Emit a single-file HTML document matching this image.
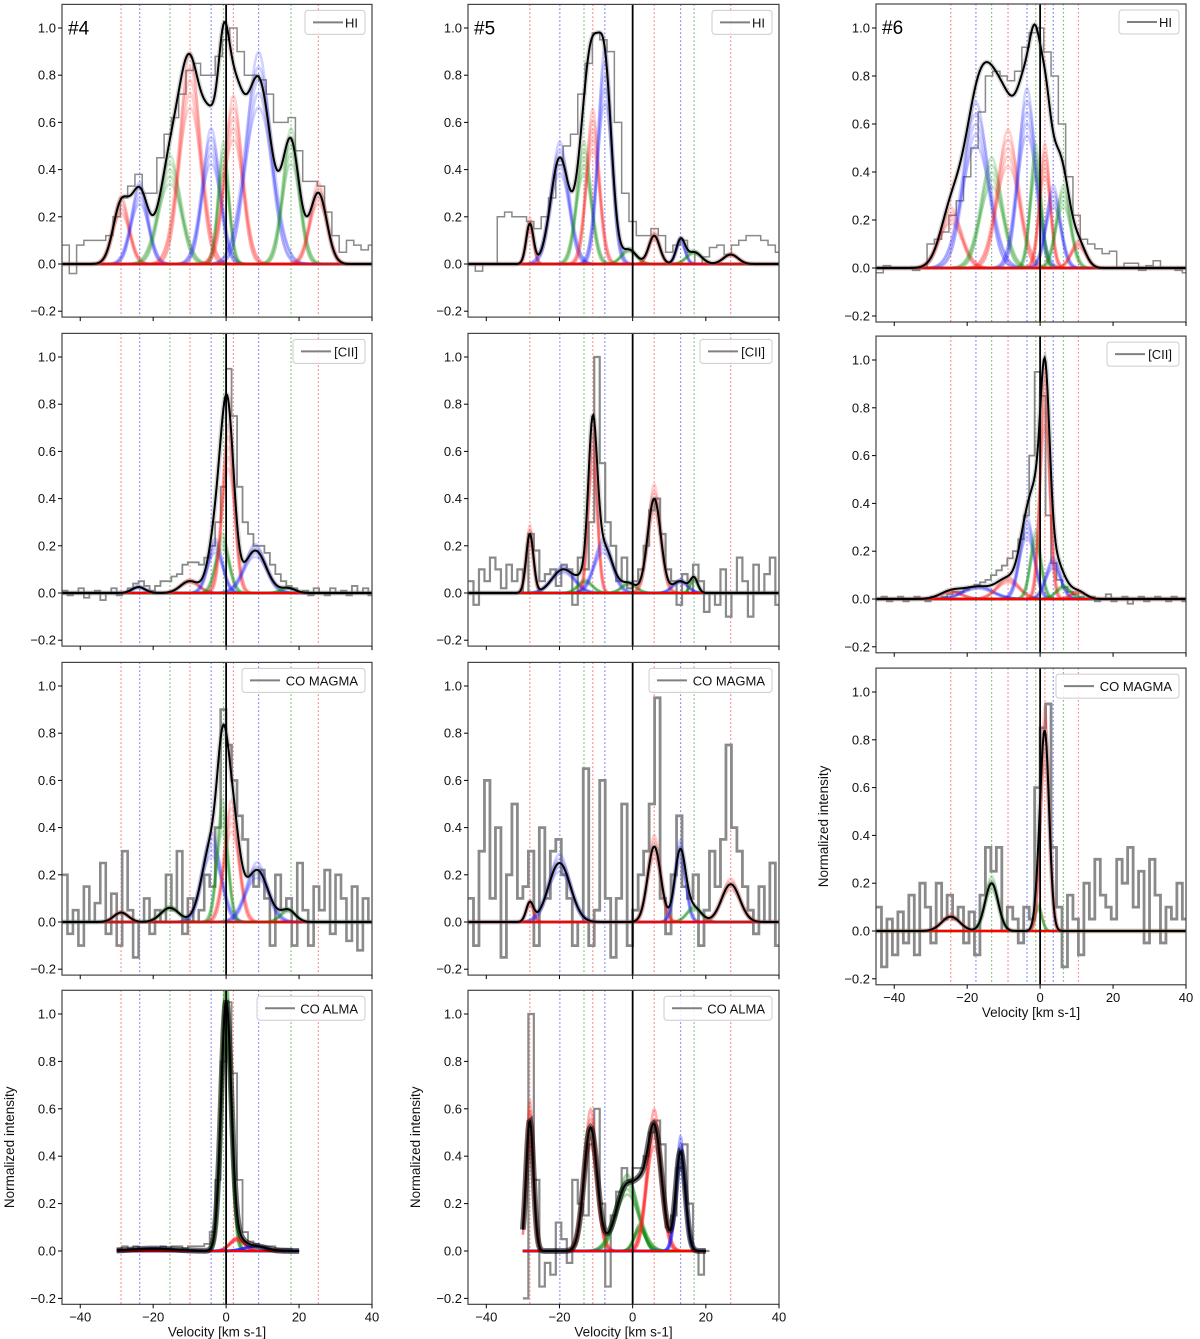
<!DOCTYPE html>
<html><head><meta charset="utf-8"><style>
body{margin:0;background:#fff;}
svg{display:block;font-family:"Liberation Sans","DejaVu Sans",sans-serif;}
</style></head><body>
<svg id="fig" width="1200" height="1339" viewBox="0 0 1200 1339" xmlns="http://www.w3.org/2000/svg"></svg>
<script>
// ---- data arrays ----
const velLines4 = [[-28.8,'r'],[-23.7,'b'],[-15.4,'g'],[-9.9,'r'],[-4.1,'b'],[-0.7,'g'],[2.0,'r'],[8.9,'b'],[17.8,'g'],[25.3,'r']];
const velLines5 = [[-28.1,'r'],[-19.9,'b'],[-13.3,'g'],[-10.9,'r'],[-7.6,'b'],[5.9,'r'],[13.1,'b'],[16.8,'g'],[26.8,'r']];
const velLines6 = [[-24.5,'r'],[-17.6,'b'],[-13.3,'g'],[-8.8,'r'],[-3.6,'b'],[-1.2,'g'],[1.3,'r'],[3.6,'b'],[6.4,'g'],[10.5,'r']];

// components: [center, amplitude, sigma, colour]
const comp4HI = [[-28.8,0.25,2.2,'r'],[-23.7,0.3,2.3,'b'],[-15.4,0.4,3.0,'g'],[-9.9,0.78,2.9,'r'],[-4.1,0.5,2.5,'b'],[-0.7,0.45,1.5,'g'],[2.0,0.62,2.5,'r'],[8.9,0.78,3.5,'b'],[17.8,0.5,2.3,'g'],[25.3,0.3,2.3,'r']];
const comp4CII = [[-24,0.025,1.8,'b'],[-10,0.05,2.5,'r'],[-3,0.2,2,'b'],[-1,0.22,1.8,'g'],[0.6,0.62,1.7,'r'],[8,0.18,3,'b'],[17,0.02,2,'g']];
const comp4CO = [[-28.8,0.04,2,'r'],[-15.4,0.06,2.5,'g'],[-4,0.33,2.6,'b'],[-1,0.45,1.5,'g'],[1.5,0.45,2,'r'],[8.5,0.22,3,'b'],[17,0.05,2,'g']];
const comp4ALMA = [[0,1.04,1.4,'g'],[3,0.05,2,'r'],[8,0.02,3,'b'],[-20,0.01,6,'b']];
const comp5HI = [[-28.1,0.17,1.0,'r'],[-19.9,0.45,2.5,'b'],[-13.3,0.45,2.0,'g'],[-10.9,0.57,1.8,'r'],[-7.6,0.8,1.9,'b'],[-1,0.06,2,'g'],[5.9,0.12,1.5,'r'],[13.1,0.1,1.2,'b'],[16.8,0.05,2,'g'],[26.8,0.04,2,'r']];
const comp5CII = [[-28.1,0.25,1.0,'r'],[-19,0.1,3,'b'],[-13,0.05,2,'g'],[-10.9,0.62,1.2,'r'],[-8,0.2,2.5,'b'],[-1,0.04,2,'g'],[5.9,0.4,1.8,'r'],[13,0.05,2,'b'],[16.8,0.06,1,'g']];
const comp5CO = [[-28.1,0.08,1.0,'r'],[-20,0.25,3,'b'],[5.9,0.32,1.8,'r'],[13,0.3,1.5,'b'],[16.8,0.06,2,'g'],[26.8,0.16,2.5,'r']];
const comp5ALMA = [[-28.1,0.55,1.0,'r'],[-11.5,0.52,1.8,'r'],[-1.5,0.28,3,'g'],[2,0.1,1.5,'g'],[5.9,0.52,2,'r'],[13.1,0.42,1.3,'b']];
const comp6HI = [[-24.5,0.22,3,'r'],[-17.6,0.6,3.5,'b'],[-13.3,0.4,3,'g'],[-8.8,0.5,3,'r'],[-3.6,0.65,2.5,'b'],[-1.2,0.45,1.5,'g'],[1.3,0.45,1.5,'r'],[3.6,0.3,2,'b'],[6.4,0.3,2,'g'],[10.5,0.1,2,'r']];
const comp6CII = [[-24.5,0.03,3,'r'],[-17,0.05,4,'b'],[-8.8,0.08,3,'r'],[-3.6,0.3,2,'b'],[-1.2,0.25,1.5,'g'],[1.3,0.85,1.3,'r'],[3.6,0.15,2,'b'],[6.4,0.05,2,'g'],[10.5,0.03,2,'r']];
const comp6CO = [[-24.5,0.06,2.5,'r'],[-13.3,0.2,1.8,'g'],[-0.5,0.1,1,'g'],[1.3,0.82,1.2,'r']];

// observed spectra (step histograms): start velocity, bin width, values
const obs4HI = [-45,2,[0.08,-0.04,0.08,0.1,0.1,0.1,0.12,0.2,0.28,0.33,0.38,0.3,0.3,0.45,0.55,0.62,0.72,0.82,0.85,0.8,0.8,0.88,0.95,1.0,0.9,0.8,0.8,0.78,0.72,0.6,0.6,0.62,0.48,0.35,0.35,0.33,0.22,0.12,0.05,0.1,0.08,0.06,0.08]];
const obs5HI = [-45,2,[0.0,-0.03,0.0,0.0,0.2,0.22,0.2,0.2,0.18,0.15,0.2,0.28,0.42,0.5,0.55,0.72,0.85,0.98,0.95,0.9,0.6,0.3,0.18,0.12,0.12,0.15,0.12,0.05,0.08,0.1,0.05,0.0,0.03,0.07,0.08,0.04,0.08,0.1,0.12,0.12,0.1,0.08,0.05]];
const obs6HI = [-45,2,[-0.02,0.01,0.0,0.0,0.0,-0.01,0.0,0.1,0.12,0.15,0.22,0.28,0.38,0.5,0.65,0.8,0.82,0.8,0.78,0.82,0.92,0.98,1.0,0.9,0.8,0.6,0.38,0.22,0.12,0.1,0.08,0.06,0.07,0.0,0.02,0.02,-0.01,0.01,0.03,0.0,0.0,-0.01,-0.02]];
const obs4CII = [-45,1.5,[0.01,-0.01,0.0,0.02,-0.02,0.0,0.01,-0.03,0.0,0.02,-0.01,0.0,0.02,0.04,0.05,0.03,0.01,0.03,0.05,0.05,0.07,0.08,0.12,0.13,0.13,0.12,0.15,0.2,0.3,0.45,0.95,0.75,0.45,0.3,0.25,0.2,0.2,0.17,0.12,0.08,0.05,0.03,0.02,0.0,0.01,-0.01,0.02,0.0,-0.01,0.02,0.0,0.01,-0.01,0.03,0.0,0.02,-0.01]];
const obs5CII = [-45,1.5,[0.05,-0.05,0.1,0.05,0.15,0.1,0.02,0.12,0.05,0.1,0.0,0.25,0.18,0.05,0.08,0.1,0.03,0.12,0.1,-0.05,0.15,0.1,0.3,1.0,0.55,0.3,0.2,0.05,0.15,0.02,0.05,0.1,0.2,0.35,0.4,0.25,0.1,0.05,-0.05,0.08,0.0,0.12,0.05,-0.08,0.0,-0.05,0.1,-0.1,0.0,0.15,0.05,-0.1,0.12,0.0,0.08,0.15,-0.05]];
const obs6CII = [-45,1.5,[0.0,0.01,-0.01,0.0,0.01,-0.01,0.0,0.01,0.0,-0.01,0.01,0.0,0.01,0.02,0.03,0.03,0.04,0.05,0.06,0.07,0.08,0.1,0.12,0.14,0.17,0.2,0.25,0.35,0.6,0.95,0.85,0.35,0.15,0.08,0.05,0.03,0.02,0.01,0.0,0.01,-0.01,0.0,0.02,-0.01,0.0,0.01,-0.02,0.0,0.01,-0.01,0.0,0.01,0.0,-0.01,0.01,0.0,-0.01]];
const obs4CO = [-45,1.5,[0.2,-0.05,0.05,-0.1,0.15,0.0,0.08,0.25,-0.05,0.12,-0.1,0.3,0.05,-0.15,0.0,0.1,-0.05,0.05,0.0,0.2,0.05,0.3,-0.05,0.1,0.0,0.05,0.2,0.15,0.4,0.9,0.75,0.6,0.45,0.35,0.2,0.15,0.22,0.1,-0.1,0.2,0.05,0.1,-0.1,0.25,0.05,-0.1,0.15,0.05,0.22,-0.05,0.2,0.1,-0.08,0.15,-0.12,0.1,0.0]];
const obs5CO = [-45,1.5,[0.1,-0.1,0.3,0.6,0.1,0.4,-0.15,0.2,0.5,0.1,0.15,0.3,-0.1,0.4,0.1,0.3,0.35,0.2,0.1,-0.1,0.0,0.65,-0.1,0.05,0.6,0.1,-0.15,0.1,0.5,-0.1,0.05,0.2,0.3,0.5,0.95,0.1,-0.05,0.2,0.45,0.15,0.1,0.2,-0.1,0.05,0.3,0.15,0.35,0.75,0.4,0.3,0.15,0.05,-0.05,0.15,0.0,0.25,-0.1]];
const obs6CO = [-45,1.5,[0.1,-0.15,0.05,-0.1,0.08,-0.05,0.15,-0.1,0.2,0.1,-0.05,0.2,0.05,0.15,0.05,0.1,-0.05,0.08,-0.1,0.15,0.35,0.25,0.35,0.0,0.1,0.05,-0.05,0.1,0.05,0.6,0.85,0.95,0.35,0.1,-0.15,0.15,0.05,-0.1,0.2,0.05,0.3,0.15,0.1,0.05,0.3,0.2,0.35,0.1,0.25,-0.05,0.3,0.15,-0.05,0.1,0.05,0.2,0.05]];
const obs4ALMA = [-30,1.5,[0.01,0.02,0.01,0.02,0.01,0.01,0.0,0.01,0.02,0.01,0.02,0.02,0.01,0.02,0.02,0.02,0.03,0.08,0.3,0.8,1.05,0.75,0.3,0.08,0.04,0.03,0.02,0.02,0.02,0.01,0.01,0.01,0.0]];
const obs5ALMA = [-30,1.5,[-0.2,1.0,0.3,-0.15,-0.05,-0.1,0.12,0.05,-0.05,0.3,0.2,0.15,0.45,0.6,0.2,-0.15,0.15,0.25,0.35,0.3,0.35,0.35,0.4,0.5,0.55,0.45,0.1,0.15,0.35,0.45,0.2,0.0,-0.1,0.0]];

const xTicks = [-40,-20,0,20,40];
const yTicks = [-0.2,0.0,0.2,0.4,0.6,0.8,1.0];

// ---- layout ----
const COLX = {c4:[62,372], c5:[468,779], c6:[876,1186]};
const panels = [
 {id:'p4-hi', col:'c4', y0:264, y1:28, comps:comp4HI, obs:obs4HI, lines:velLines4, leg:'HI', legW:60, tag:'#4', obsW:1.5},
 {id:'p4-cii', col:'c4', y0:593, y1:357, comps:comp4CII, obs:obs4CII, lines:velLines4, leg:'[CII]', legW:72, obsW:1.8},
 {id:'p4-co-magma', col:'c4', y0:922, y1:686, comps:comp4CO, obs:obs4CO, lines:velLines4, leg:'CO MAGMA', legW:123, obsW:2.6},
 {id:'p4-co-alma', col:'c4', y0:1251, y1:1014, comps:comp4ALMA, obs:obs4ALMA, lines:velLines4, leg:'CO ALMA', legW:108, range:[-30,20], xlab:true, ylab:true, obsW:1.8, alma:true},
 {id:'p5-hi', col:'c5', y0:264, y1:28, comps:comp5HI, obs:obs5HI, lines:velLines5, leg:'HI', legW:60, tag:'#5', obsW:1.5},
 {id:'p5-cii', col:'c5', y0:593, y1:357, comps:comp5CII, obs:obs5CII, lines:velLines5, leg:'[CII]', legW:72, obsW:2.2},
 {id:'p5-co-magma', col:'c5', y0:922, y1:686, comps:comp5CO, obs:obs5CO, lines:velLines5, leg:'CO MAGMA', legW:123, obsW:2.8},
 {id:'p5-co-alma', col:'c5', y0:1251, y1:1014, comps:comp5ALMA, obs:obs5ALMA, lines:velLines5, leg:'CO ALMA', legW:108, range:[-30,20], xlab:true, ylab:true, obsW:2.2, alma:true},
 {id:'p6-hi', col:'c6', y0:268, y1:28, comps:comp6HI, obs:obs6HI, lines:velLines6, leg:'HI', legW:60, tag:'#6', obsW:1.5},
 {id:'p6-cii', col:'c6', y0:599, y1:360, comps:comp6CII, obs:obs6CII, lines:velLines6, leg:'[CII]', legW:72, obsW:1.8},
 {id:'p6-co-magma', col:'c6', y0:931, y1:692, comps:comp6CO, obs:obs6CO, lines:velLines6, leg:'CO MAGMA', legW:123, xlab:true, ylab:true, obsW:2.8},
];
const COL = {r:'#ff2020', b:'#2020ff', g:'#109010'};
const NS = 'http://www.w3.org/2000/svg';
const svg = document.getElementById('fig');
function mk(tag, attrs, parent){const e=document.createElementNS(NS,tag);for(const k in attrs)e.setAttribute(k,attrs[k]);(parent||svg).appendChild(e);return e;}
function gauss(v,c){return c[1]*Math.exp(-((v-c[0])**2)/(2*c[2]*c[2]));}
const ampF=[0.85,0.93,1,1.07,1.15], sigF=[1.1,0.95,1,1.05,0.9];

panels.forEach(p=>{
  const [L,R]=COLX[p.col];
  const xS=v=>L+(v+45)*(R-L)/85;
  const s=p.y0-p.y1;
  const yS=val=>p.y0-val*s;
  const top=yS(1.1), bot=yS(-0.225);
  const g=mk('g',{});
  
  
  const cid='clip-'+p.id;
  const cp=mk('clipPath',{id:cid},g); mk('rect',{x:L,y:top,width:R-L,height:bot-top},cp);
  const plot=mk('g',{'clip-path':'url(#'+cid+')'},g);
  
  
  p.lines.forEach(ln=>{
    const el=mk('line',{x1:xS(ln[0]),x2:xS(ln[0]),y1:top,y2:bot,stroke:COL[ln[1]],'stroke-width':1.2,'stroke-dasharray':'1.5,2.5',opacity:0.6},plot);
    
    
  });
  const rng=p.range||[-45,40];
  const vs=[];for(let v=rng[0];v<=rng[1]+1e-6;v+=0.25)vs.push(v);
  const o=p.obs; let d='';
  o[2].forEach((val,i)=>{const a=xS(o[0]+i*o[1]),b=xS(o[0]+(i+1)*o[1]),y=yS(val);d+=(i===0?'M'+a+','+y:'L'+a+','+y)+'L'+b+','+y;});
  const ob=mk('path',{d:d,fill:'none',stroke:'#8a8a8a','stroke-width':p.obsW},plot);
  
  
  p.comps.forEach(c=>{
    for(let k=0;k<5;k++){
      const cc=[c[0],c[1]*ampF[k],c[2]*sigF[k]];
      const pd='M'+vs.map(v=>xS(v)+','+yS(gauss(v,cc))).join('L');
      const el=mk('path',{d:pd,fill:'none',stroke:COL[c[3]],'stroke-width':2.6,opacity:p.alma?0.35:0.2},plot);
      
      
    }
  });
  const bl=mk('line',{x1:xS(rng[0]),x2:xS(rng[1]),y1:yS(0),y2:yS(0),stroke:'#ff0000','stroke-width':2},plot);
  
  
  const tot=v=>p.comps.reduce((a,c)=>a+gauss(v,c),0);
  const td='M'+vs.map(v=>xS(v)+','+yS(tot(v))).join('L');
  const band=mk('path',{d:td,fill:'none',stroke:p.alma?'#000':'#777','stroke-width':p.alma?6:5,opacity:p.alma?0.55:0.3},plot);
  
  
  const tl=mk('path',{d:td,fill:'none',stroke:'#000','stroke-width':2},plot);
  
  
  const vz=mk('line',{x1:xS(0),x2:xS(0),y1:top,y2:bot,stroke:'#000','stroke-width':1.8},plot);
  
  
  const fr=mk('rect',{x:L,y:top,width:R-L,height:bot-top,fill:'none',stroke:'#444','stroke-width':1.2},g);
  
  
  yTicks.forEach(t=>{
    const y=yS(t);
    mk('line',{x1:L-4,x2:L,y1:y,y2:y,stroke:'#000','stroke-width':1},g);
    const tx=mk('text',{x:L-6,y:y+4.5,'text-anchor':'end','font-size':13,fill:'#111'},g);
    tx.textContent=t.toFixed(1).replace('-','\u2212');
    
    
  });
  xTicks.forEach(t=>{
    const x=xS(t);
    mk('line',{x1:x,x2:x,y1:bot,y2:bot+4,stroke:'#000','stroke-width':1},g);
    if(p.xlab){
      const tx=mk('text',{x:x,y:bot+17,'text-anchor':'middle','font-size':13,fill:'#111'},g);
      tx.textContent=String(t).replace('-','\u2212');
      
      
    }
  });
  if(p.xlab){
    const xl=mk('text',{x:(L+R)/2,y:bot+32,'text-anchor':'middle','font-size':13.5,fill:'#111'},g);
    xl.textContent='Velocity [km s-1]';
    
    
  }
  if(p.ylab){
    const cy=(top+bot)/2, cx=L-48;
    const yl=mk('text',{x:cx,y:cy,'text-anchor':'middle','font-size':13.5,fill:'#111',transform:'rotate(-90 '+cx+' '+cy+')'},g);
    yl.textContent='Normalized intensity';
    
    
  }
  if(p.tag){
    const tg=mk('text',{x:L+6,y:top+30,'font-size':19,fill:'#000'},g);
    tg.textContent=p.tag;
    
    
  }
  const lx=R-7-p.legW, ly=top+6;
  const lg=mk('g',{},g);
  
  
  mk('rect',{x:lx,y:ly,width:p.legW,height:24,rx:3,fill:'#fff','fill-opacity':0.85,stroke:'#ccc','stroke-width':1},lg);
  mk('line',{x1:lx+8,x2:lx+38,y1:ly+12,y2:ly+12,stroke:'#808080','stroke-width':2},lg);
  const lt=mk('text',{x:lx+p.legW-7,y:ly+17,'text-anchor':'end','font-size':13,fill:'#111'},lg);
  lt.textContent=p.leg;
  
  
});
</script>
</body></html>
